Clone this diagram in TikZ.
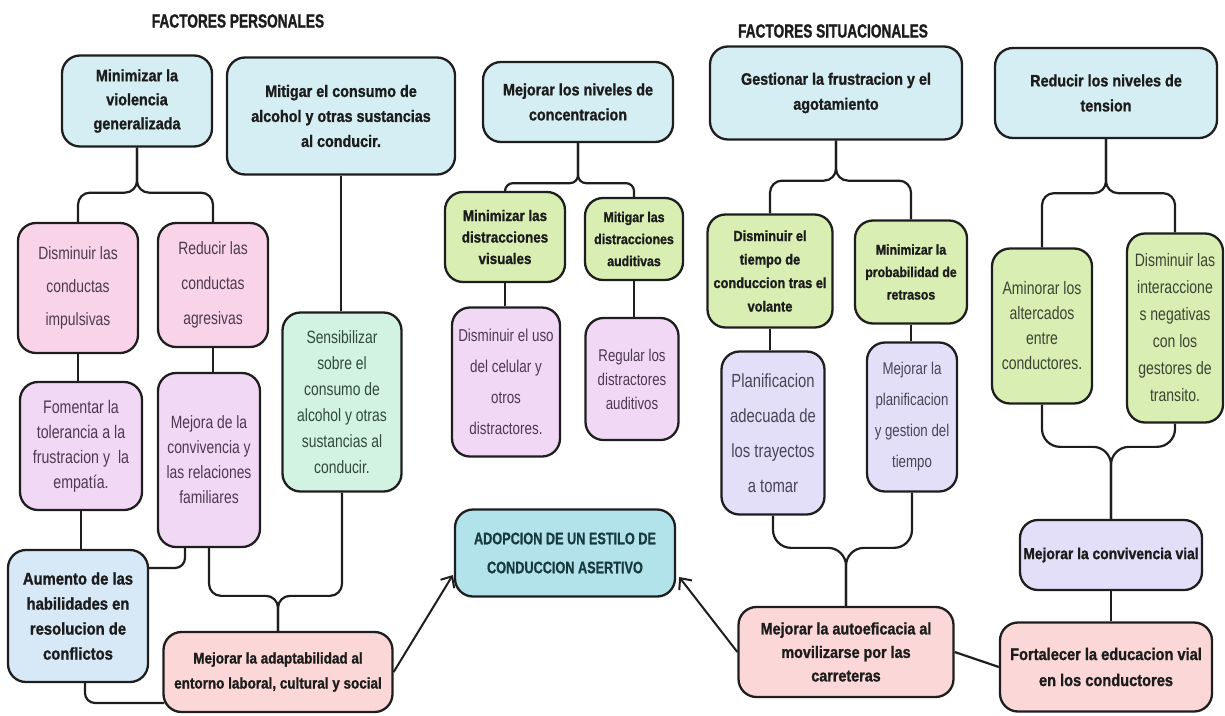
\documentclass[tikz,border=0pt]{standalone}
\usepackage{fontspec}
\setmainfont[FakeStretch=0.87, BoldFeatures={FakeBold=1.2}]{Liberation Sans}
\newfontfamily\rfont[FakeStretch=0.78]{Liberation Sans}
\newfontfamily\tfont[FakeStretch=0.72, BoldFeatures={FakeBold=1.2}]{Liberation Sans}
\newfontfamily\afont[FakeStretch=0.76, BoldFeatures={FakeBold=0.6}]{Liberation Sans}
\usetikzlibrary{arrows.meta,calc}
\definecolor{linec}{HTML}{1E1E1E}
\definecolor{boldc}{HTML}{1C1C1C}
\definecolor{regc}{HTML}{4D3A4F}
\definecolor{greentxt}{HTML}{3A4633}
\definecolor{minttxt}{HTML}{2F4A3A}
\definecolor{peritxt}{HTML}{4A4458}
\definecolor{tealtxt}{HTML}{163A3E}
\definecolor{cblue}{HTML}{D4EEF3}
\definecolor{cpink}{HTML}{F9D4E8}
\definecolor{clav}{HTML}{F1D9F6}
\definecolor{cperi}{HTML}{E3DFF8}
\definecolor{cmint}{HTML}{D3F3E2}
\definecolor{cgreen}{HTML}{D9EEB3}
\definecolor{csalmon}{HTML}{FBD7D7}
\definecolor{cltblue}{HTML}{D7E8F7}
\definecolor{cteal}{HTML}{B2E2EA}
\begin{document}
\begin{tikzpicture}[x=1pt,y=-1pt,
  box/.style={draw=linec, line width=2.3pt, rounded corners=18pt, align=center, inner sep=0pt},
  wh/.style 2 args={minimum width=#1pt, minimum height=#2pt},
  bt/.style 2 args={font=\fontsize{#1}{#2}\selectfont\bfseries, text=boldc},
  rt/.style 2 args={font=\rfont\fontsize{#1}{#2}\selectfont, text=regc},
  conn/.style={draw=linec, line width=2.2pt, rounded corners=12pt},
  arr/.style={draw=linec, line width=2pt, -{Straight Barb[length=9pt,width=16pt]}},
  title/.style={font=\tfont\fontsize{19}{22}\selectfont\bfseries, text=boldc}]
\useasboundingbox (0,0) rectangle (1225,715);
\fill[white] (0,0) rectangle (1225,715);

% titles
\node[title] (t1) at (238,21) {FACTORES PERSONALES};
\node[title] (t2) at (833,31) {FACTORES SITUACIONALES};

% top level
\node[box, fill=cblue, wh={150}{91}, bt={16.5}{24}] (n1) at (137,101) {Minimizar la\\violencia\\generalizada};
\node[box, fill=cblue, wh={228}{117}, bt={16.5}{25}] (n2) at (341,116) {Mitigar el consumo de\\alcohol y otras sustancias\\al conducir.};
\node[box, fill=cblue, wh={190}{80}, bt={16.5}{25}] (n3) at (578,102) {Mejorar los niveles de\\concentracion};
\node[box, fill=cblue, wh={252}{93}, bt={16.5}{25}] (n4) at (836,93) {Gestionar la frustracion y el\\agotamiento};
\node[box, fill=cblue, wh={222}{90}, bt={16.5}{25}] (n5) at (1106,93) {Reducir los niveles de\\tension};

% personal branch
\node[box, fill=cpink, wh={120}{130}, rt={17.8}{33}] (n6) at (78,288) {Disminuir las\\conductas\\impulsivas};
\node[box, fill=cpink, wh={110}{124}, rt={17.8}{35}] (n7) at (213,285) {Reducir las\\conductas\\agresivas};
\node[box, fill=clav, wh={122}{128}, rt={18.2}{25}] (n8) at (81,446) {Fomentar la\\tolerancia a la\\frustracion y~ la\\empatía.};
\node[box, fill=clav, wh={102}{174}, rt={17.8}{25}] (n9) at (209,460) {Mejora de la\\convivencia y\\las relaciones\\familiares};
\node[box, fill=cmint, wh={119}{179}, rt={17.8}{26}, text=minttxt] (n10) at (342,402) {Sensibilizar\\sobre el\\consumo de\\alcohol y otras\\sustancias al\\conducir.};
\node[box, fill=cltblue, wh={140}{132}, bt={17}{25}] (n11) at (78,616) {Aumento de las\\habilidades en\\resolucion de\\conflictos};
\node[box, fill=csalmon, wh={229}{80}, bt={15.5}{25}] (n12) at (278,672) {Mejorar la adaptabilidad al\\entorno laboral, cultural y social};

% center
\node[box, fill=cteal, wh={220}{87}, font=\afont\fontsize{16.7}{29}\selectfont\bfseries, text=tealtxt] (n13) at (565,553) {ADOPCION DE UN ESTILO DE\\CONDUCCION ASERTIVO};

% concentration branch
\node[box, fill=cgreen, wh={120}{90}, bt={15.4}{21.5}] (n14) at (505,237) {Minimizar las\\distracciones\\visuales};
\node[box, fill=cgreen, wh={98}{82}, bt={14.2}{22}] (n15) at (634,239) {Mitigar las\\distracciones\\auditivas};
\node[box, fill=clav, wh={108}{149}, rt={17.2}{31}] (n16) at (506,382) {Disminuir el uso\\del celular y\\otros\\distractores.};
\node[box, fill=clav, wh={93}{122}, rt={17}{24}] (n17) at (632,379) {Regular los\\distractores\\auditivos};

% frustration branch
\node[box, fill=cgreen, wh={125}{113}, bt={14.7}{23.5}] (n18) at (770,271) {Disminuir el\\tiempo de\\conduccion tras el\\volante};
\node[box, fill=cgreen, wh={112}{103}, bt={14.1}{22.5}] (n19) at (911,272) {Minimizar la\\probabilidad de\\retrasos};
\node[box, fill=cperi, wh={103}{163}, rt={19}{35}, text=peritxt] (n20) at (773,433) {Planificacion\\adecuada de\\los trayectos\\a tomar};
\node[box, fill=cperi, wh={90}{149}, rt={17}{31}, text=peritxt] (n21) at (912,417) {Mejorar la\\planificacion\\y gestion del\\tiempo};
\node[box, fill=csalmon, wh={215}{90}, bt={16.5}{23.5}] (n22) at (846,652) {Mejorar la autoeficacia al\\movilizarse por las\\carreteras};

% tension branch
\node[box, fill=cgreen, wh={100}{155}, rt={18}{25}, text=greentxt] (n23) at (1042,326) {Aminorar los\\altercados\\entre\\conductores.};
\node[box, fill=cgreen, wh={96}{189}, rt={18}{27}, text=greentxt] (n24) at (1175,328) {Disminuir las\\interaccione\\s negativas\\con los\\gestores de\\transito.};
\node[box, fill=cperi, wh={182}{70}, bt={15.9}{20}] (n25) at (1111,555) {Mejorar la convivencia vial};
\node[box, fill=csalmon, wh={212}{89}, bt={16.8}{26}] (n26) at (1106,667) {Fortalecer la educacion vial\\en los conductores};

% fork coordinates
\path (n1.south) ++(0,45) coordinate (fa);
\path (n3.south) ++(0,40) coordinate (fc);
\path (n4.south) ++(0,40) coordinate (fd);
\path (n5.south) ++(0,54) coordinate (fe);
\path (n12.north) ++(0,-35) coordinate (m1);
\path (n22.north) ++(0,-58) coordinate (m3);
\path (n25.north) ++(0,-72) coordinate (m4);

% top forks
\draw[conn] (n1.south) -- (fa) -| (n6.north);
\draw[conn] (n1.south) -- (fa) -| (n7.north);
\draw[conn] (n2.south) -- (n2.south |- n10.north);
\draw[conn, rounded corners=8pt] (n3.south) -- (fc) -| (n14.north);
\draw[conn, rounded corners=8pt] (n3.south) -- (fc) -| (n15.north);
\draw[conn] (n4.south) -- (fd) -| (n18.north);
\draw[conn] (n4.south) -- (fd) -| (n19.north);
\draw[conn] (n5.south) -- (fe) -| (n23.north);
\draw[conn] (n5.south) -- (fe) -| (n24.north);

% vertical links
\draw[conn] (n6.south) -- (n6.south |- n8.north);
\draw[conn] (n7.south) -- (n7.south |- n9.north);
\draw[conn] (n8.south) -- (n8.south |- n11.north);
\draw[conn] (n14.south) -- (n14.south |- n16.north);
\draw[conn] (n15.south) -- (n15.south |- n17.north);
\draw[conn] (n18.south) -- (n18.south |- n20.north);
\draw[conn] (n19.south) -- (n19.south |- n21.north);
\draw[conn] (n25.south) -- (n25.south |- n26.north);

% merges
\draw[conn, rounded corners=10pt] ($(n9.south)+(-24,0)$) |- ($(n11.east)+(0,-48)$);
\draw[conn] (n9.south) |- (m1) -- (n12.north);
\draw[conn] (n10.south) |- (m1) -- (n12.north);
\draw[conn, rounded corners=10pt] ($(n11.south)+(7,0)$) |- ($(n12.west)+(2,31)$);
\draw[conn, rounded corners=18pt] (n20.south) |- (m3) -- (n22.north);
\draw[conn, rounded corners=18pt] (n21.south) |- (m3) -- (n22.north);
\draw[conn, rounded corners=18pt] (n23.south) |- (m4) -- (n25.north);
\draw[conn, rounded corners=18pt] (n24.south) |- (m4) -- (n25.north);
\draw[conn] (n22.east) -- (n26.west);

% arrows
\draw[arr] (n12.east) -- ($(n13.west)+(-1,22)$);
\draw[arr] (n22.west) -- ($(n13.east)+(3,24)$);
\end{tikzpicture}
\end{document}
